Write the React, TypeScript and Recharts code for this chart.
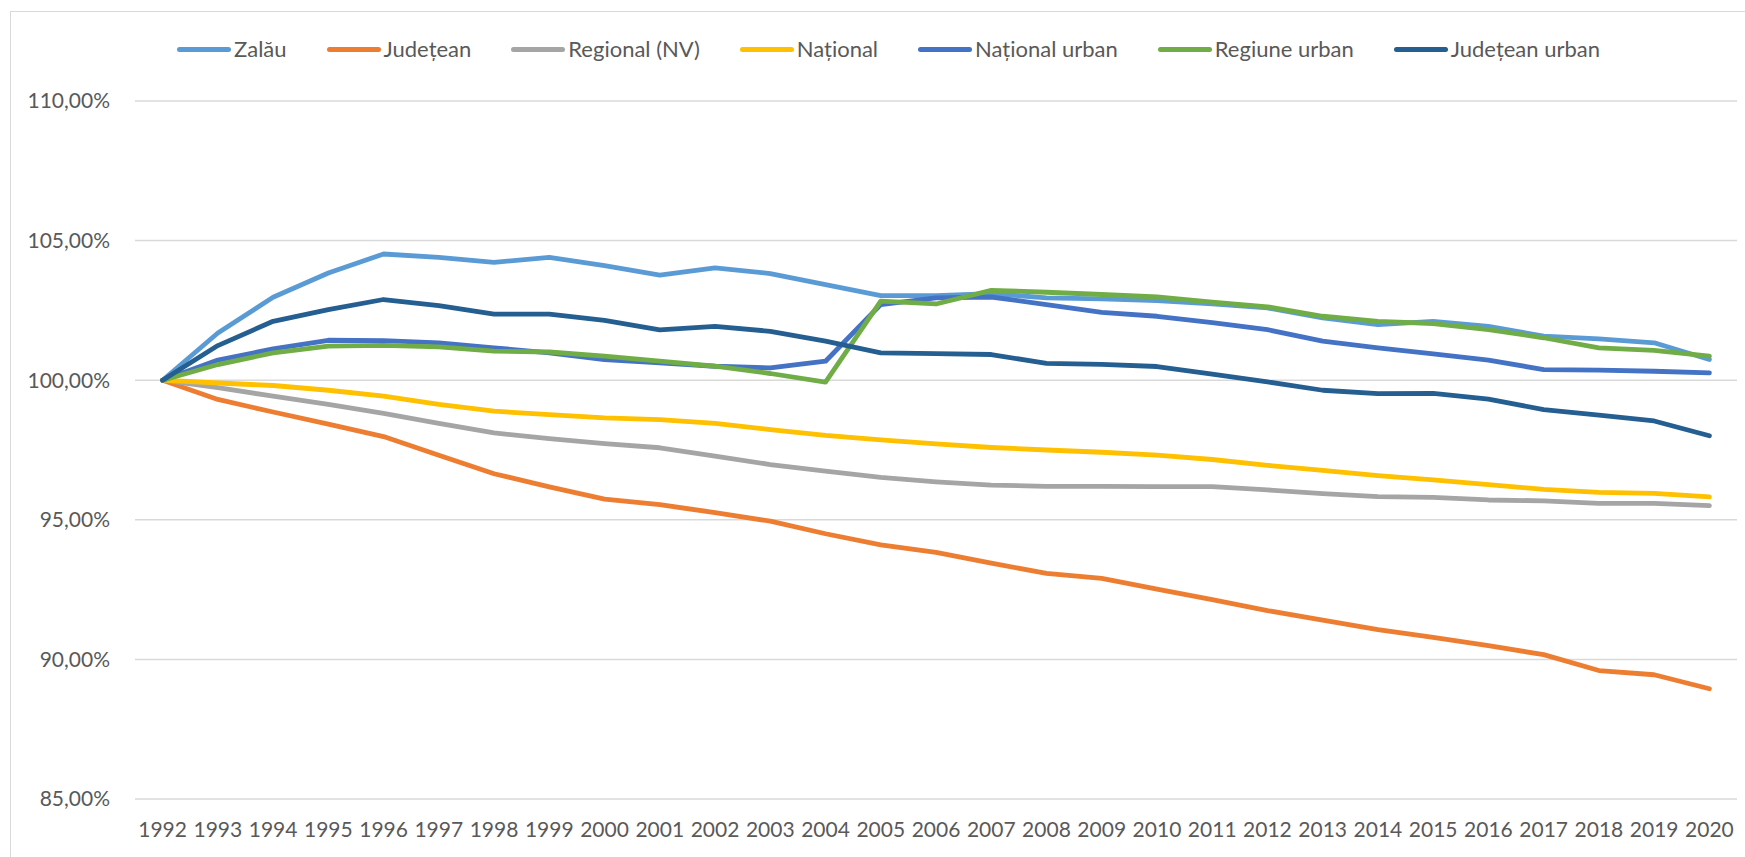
import { LineChart, Line, XAxis, YAxis, CartesianGrid, Legend } from 'recharts'

// ─── Data ─────────────────────────────────────────────────────────────────────

const years = [
  '1992', '1993', '1994', '1995', '1996', '1997', '1998', '1999', '2000', '2001',
  '2002', '2003', '2004', '2005', '2006', '2007', '2008', '2009', '2010', '2011',
  '2012', '2013', '2014', '2015', '2016', '2017', '2018', '2019', '2020',
]

const zalau = [
  100, 101.69, 102.97, 103.84, 104.52, 104.4, 104.22, 104.4, 104.1, 103.76,
  104.02, 103.82, 103.42, 103.03, 103.03, 103.1, 102.95, 102.91, 102.85, 102.73,
  102.59, 102.23, 101.99, 102.11, 101.93, 101.58, 101.48, 101.34, 100.74,
]
const judetean = [
  100, 99.31, 98.86, 98.43, 97.98, 97.31, 96.65, 96.18, 95.74, 95.54,
  95.26, 94.95, 94.5, 94.1, 93.83, 93.45, 93.08, 92.9, 92.52, 92.14,
  91.75, 91.41, 91.07, 90.79, 90.49, 90.17, 89.6, 89.45, 88.95,
]
const regional = [
  100, 99.73, 99.43, 99.13, 98.81, 98.45, 98.11, 97.91, 97.73, 97.58,
  97.28, 96.98, 96.74, 96.52, 96.36, 96.24, 96.2, 96.2, 96.19, 96.19,
  96.07, 95.94, 95.83, 95.8, 95.71, 95.68, 95.59, 95.59, 95.51,
]
const national = [
  100, 99.9, 99.81, 99.64, 99.43, 99.13, 98.89, 98.77, 98.65, 98.59,
  98.45, 98.23, 98.02, 97.86, 97.72, 97.59, 97.5, 97.42, 97.32, 97.16,
  96.95, 96.77, 96.58, 96.43, 96.26, 96.09, 95.98, 95.95, 95.82,
]
const nationalUrban = [
  100, 100.72, 101.12, 101.43, 101.42, 101.34, 101.16, 100.98, 100.74, 100.62,
  100.5, 100.44, 100.68, 102.71, 102.95, 102.98, 102.71, 102.43, 102.29, 102.06,
  101.81, 101.4, 101.16, 100.94, 100.72, 100.38, 100.36, 100.32, 100.26,
]
const regiuneUrban = [
  100, 100.56, 100.98, 101.22, 101.25, 101.19, 101.04, 101.01, 100.86, 100.68,
  100.5, 100.24, 99.93, 102.83, 102.73, 103.22, 103.15, 103.07, 102.98, 102.8,
  102.63, 102.29, 102.11, 102.03, 101.81, 101.52, 101.16, 101.07, 100.86,
]
const judeteanUrban = [
  100, 101.24, 102.11, 102.53, 102.89, 102.67, 102.37, 102.37, 102.14, 101.8,
  101.93, 101.75, 101.4, 100.98, 100.95, 100.92, 100.6, 100.57, 100.49, 100.22,
  99.94, 99.64, 99.52, 99.53, 99.32, 98.95, 98.75, 98.54, 98.01,
]

const yTicks = [85, 90, 95, 100, 105, 110]

// ─── Series config ────────────────────────────────────────────────────────────

const series = [
  { key: 'zalau', name: 'Zalău', color: '#5B9BD5', values: zalau },
  { key: 'judetean', name: 'Județean', color: '#ED7D31', values: judetean },
  { key: 'regional', name: 'Regional (NV)', color: '#A5A5A5', values: regional },
  { key: 'national', name: 'Național', color: '#FFC000', values: national },
  { key: 'nationalUrban', name: 'Național urban', color: '#4472C4', values: nationalUrban },
  { key: 'regiuneUrban', name: 'Regiune urban', color: '#70AD47', values: regiuneUrban },
  { key: 'judeteanUrban', name: 'Județean urban', color: '#255E91', values: judeteanUrban },
]

const data = years.map((year, i) => {
  const row: Record<string, string | number> = { year }
  series.forEach(s => { row[s.key] = s.values[i] })
  return row
})

const FONT = 'Lato, "Open Sans", sans-serif'
const TEXT = '#595959'

function pct(v: number) {
  return `${v.toFixed(2).replace('.', ',')}%`
}

// legend drawn by hand so the line samples match Excel's look
function LegendRow() {
  return (
    <div style={{ display: 'flex', justifyContent: 'center', paddingLeft: 72, fontFamily: FONT }}>
      {series.map(s => (
        <div key={s.key} style={{ display: 'flex', alignItems: 'center', marginRight: 40 }}>
          <span style={{ display: 'inline-block', width: 54, height: 5, borderRadius: 3, background: s.color, marginRight: 3 }} />
          <span style={{ fontSize: 22, color: TEXT, lineHeight: '26px' }}>{s.name}</span>
        </div>
      ))}
    </div>
  )
}

export default function App() {
  return (
    <div style={{ position: 'absolute', left: 0, top: 0, width: 1745, height: 857, background: '#fff', overflow: 'hidden' }}>
      <div style={{ position: 'absolute', left: 10, top: 11, width: 1800, height: 900, border: '1.5px solid #D9D9D9' }} />
      <LineChart
        width={1745}
        height={857}
        data={data}
        margin={{ top: 101, right: 8, bottom: 18, left: 15 }}
        style={{ position: 'absolute', left: 0, top: 0 }}
      >
        <CartesianGrid vertical={false} stroke="#D9D9D9" strokeWidth={1.5} />
        <XAxis
          dataKey="year"
          axisLine={false}
          tickLine={false}
          tickSize={0}
          tickMargin={23}
          height={40}
          interval={0}
          padding={{ left: 27.6, right: 27.6 }}
          tick={{ fontSize: 21, fill: TEXT, fontFamily: FONT }}
        />
        <YAxis
          domain={[85, 110]}
          ticks={yTicks}
          width={120}
          axisLine={false}
          tickLine={false}
          tickSize={0}
          tickMargin={25}
          tickFormatter={pct}
          tick={{ fontSize: 21, fill: TEXT, fontFamily: FONT }}
        />
        <Legend
          verticalAlign="middle"
          align="center"
          content={() => <LegendRow />}
          wrapperStyle={{ top: 36, left: 0, width: 1745 }}
        />
        {series.map(s => (
          <Line
            key={s.key}
            type="linear"
            dataKey={s.key}
            name={s.name}
            stroke={s.color}
            strokeWidth={4.8}
            strokeLinejoin="round"
            strokeLinecap="round"
            dot={false}
            activeDot={false}
            isAnimationActive={false}
          />
        ))}
      </LineChart>
    </div>
  )
}
